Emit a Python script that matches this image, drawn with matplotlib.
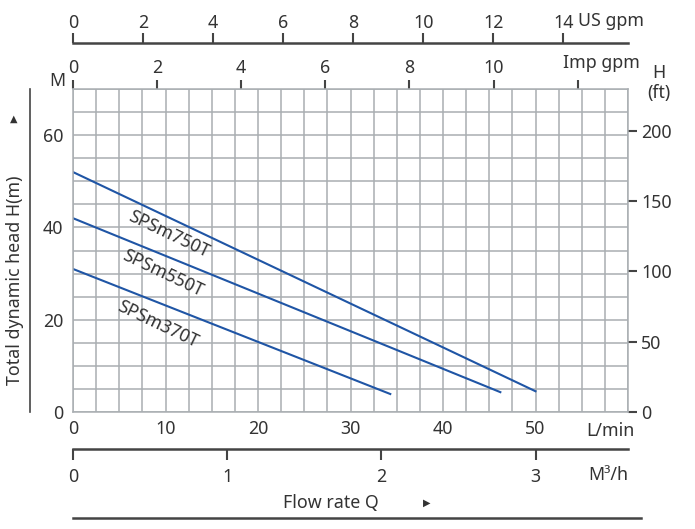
import numpy as np
import matplotlib.pyplot as plt
from matplotlib.ticker import MultipleLocator

plt.rcParams['font.family'] = ['Noto Sans', 'DejaVu Sans']

# pump curves: flow (L/min) vs head (m)
models = ['SPSm750T', 'SPSm550T', 'SPSm370T']
flow = [[0, 50], [0, 46.2], [0, 34.3]]
head = [[52, 4.5], [42, 4.3], [31, 3.9]]
label_xy = [(10.3, 38.6), (9.7, 30.0), (9.2, 19.0)]

x_ticks = [0, 10, 20, 30, 40, 50]
y_ticks = [0, 20, 40, 60]
ft_ticks = [0, 50, 100, 150, 200]
usgpm_ticks = [0, 2, 4, 6, 8, 10, 12, 14]
impgpm_ticks = [0, 2, 4, 6, 8, 10, 12]
impgpm_labels = ['0', '2', '4', '6', '8', '10', '']
m3h_ticks = [0, 1, 2, 3]

W, H = 695, 529
txt = '#333333'
dark = '#444444'
grid_c = '#a9aeb2'
line_c = '#1f55a5'
fs = 12.8

fig = plt.figure(figsize=(W / 100, H / 100), dpi=100)

def fx(px):
    return px / W

def fy(py):
    return 1 - py / H

x0, x1, ytop, ybot = 73, 628, 89, 412
ax = fig.add_axes([fx(x0), fy(ybot), fx(x1 - x0), fy(ytop) - fy(ybot)])
ax.set_xlim(0, 60)
ax.set_ylim(0, 70)
ax.xaxis.set_minor_locator(MultipleLocator(2.5))
ax.yaxis.set_minor_locator(MultipleLocator(5))
ax.set_xticks(x_ticks)
ax.set_yticks(y_ticks)
ax.grid(True, which='both', color=grid_c, lw=1.1)
ax.tick_params(which='both', length=0, labelsize=fs, labelcolor=txt)
ax.tick_params(axis='x', pad=6)
ax.tick_params(axis='y', pad=7)
for s in ax.spines.values():
    s.set_color(grid_c)
    s.set_linewidth(1.1)

for m, xs, ys, (lx, ly) in zip(models, flow, head, label_xy):
    ax.plot(xs, ys, color=line_c, lw=1.5)
    ax.text(lx, ly, m, rotation=-25.5, rotation_mode='anchor', ha='center',
            va='center', fontsize=fs, color=txt)

# right axis in feet
sec_r = ax.secondary_yaxis('right', functions=(lambda m: m * 3.2808, lambda f: f / 3.2808))
sec_r.set_yticks(ft_ticks)
sec_r.spines['right'].set_visible(False)
sec_r.tick_params(length=6.5, width=1.5, color=dark, labelsize=fs, labelcolor=txt, pad=3)

# Imp gpm ticks on top of grid
sec_t = ax.secondary_xaxis('top', functions=(lambda q: q / 4.546, lambda g: g * 4.546))
sec_t.set_xticks(impgpm_ticks)
sec_t.set_xticklabels(impgpm_labels)
sec_t.spines['top'].set_visible(False)
sec_t.tick_params(length=6.5, width=1.5, color=dark, labelsize=fs, labelcolor=txt, pad=2)

# US gpm axis
ax_us = fig.add_axes([fx(x0), fy(43), fx(x1 - x0), 0.0001])
ax_us.set_xlim(0, 60 / 3.785)
ax_us.set_xticks(usgpm_ticks)
ax_us.xaxis.set_ticks_position('top')
ax_us.set_yticks([])
for k in ['left', 'right', 'bottom']:
    ax_us.spines[k].set_visible(False)
ax_us.spines['top'].set_color(dark)
ax_us.spines['top'].set_linewidth(1.8)
ax_us.tick_params(length=7.2, width=1.5, color=dark, labelsize=fs, labelcolor=txt, pad=1)
ax_us.patch.set_alpha(0)

# M3/h axis
ax_m3 = fig.add_axes([fx(x0), fy(449), fx(x1 - x0), 0.0001])
ax_m3.set_xlim(0, 60 / 16.667)
ax_m3.set_xticks(m3h_ticks)
ax_m3.set_yticks([])
for k in ['left', 'right', 'top']:
    ax_m3.spines[k].set_visible(False)
ax_m3.spines['bottom'].set_color(dark)
ax_m3.spines['bottom'].set_linewidth(1.8)
ax_m3.tick_params(length=8, width=1.5, color=dark, labelsize=fs, labelcolor=txt, pad=6)
ax_m3.patch.set_alpha(0)

# extra texts and lines
def t(px, py, s, **kw):
    kw.setdefault('fontsize', fs)
    kw.setdefault('color', txt)
    fig.text(fx(px), fy(py), s, **kw)

t(578, 21, 'US gpm', ha='left', va='center')
t(563, 63, 'Imp gpm', ha='left', va='center')
t(659, 73, 'H', ha='center', va='center')
t(659, 93, '(ft)', ha='center', va='center')
t(57, 81, 'M', ha='center', va='center')
t(586, 431, 'L/min', ha='left', va='center')
t(588, 475, 'M³/h', ha='left', va='center')
t(331, 503, 'Flow rate Q', ha='center', va='center')
t(427, 503, '▶', ha='center', va='center', fontsize=7)
t(14, 119, '▲', ha='center', va='center', fontsize=7)
t(15, 280, 'Total dynamic head H(m)', ha='center', va='center', rotation=90)

fig.add_artist(plt.Line2D([fx(30), fx(30)], [fy(89), fy(412)], color=dark, lw=1.2))
fig.add_artist(plt.Line2D([fx(73), fx(641)], [fy(518), fy(518)], color=dark, lw=1.8))

fig.savefig('out.png', dpi=100)
